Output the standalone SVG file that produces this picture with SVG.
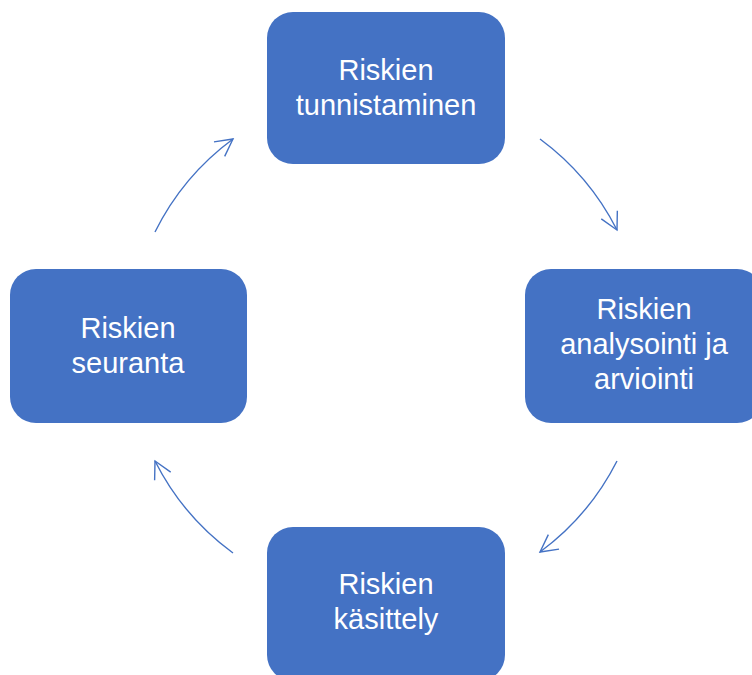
<svg xmlns="http://www.w3.org/2000/svg" width="752" height="675" viewBox="0 0 752 675">
<defs>
<style>
.box{fill:#4472C4;}
.lbl{fill:#FFFFFF;font-family:"Liberation Sans",Arial,sans-serif;font-size:29px;text-anchor:middle;}
.conn{fill:none;stroke:#4472C4;stroke-width:1.4;marker-end:url(#arr);}
</style>
<marker id="arr" markerUnits="userSpaceOnUse" markerWidth="40" markerHeight="40" viewBox="-20 -20 40 40" refX="0" refY="0" orient="auto" overflow="visible">
<path d="M-17,-9 L0,0 L-17,9" fill="none" stroke="#4472C4" stroke-width="1.4"/>
</marker>
</defs>
<rect width="752" height="675" fill="#FFFFFF"/>
<g id="n1">
<rect class="box" x="267" y="12" width="238" height="152" rx="26"/>
<text class="lbl" x="386" y="80">Riskien</text>
<text class="lbl" x="386" y="115">tunnistaminen</text>
</g>
<g id="n2">
<rect class="box" x="525" y="269" width="238" height="154" rx="26"/>
<text class="lbl" x="644" y="319">Riskien</text>
<text class="lbl" x="644" y="354">analysointi ja</text>
<text class="lbl" x="644" y="389">arviointi</text>
</g>
<g id="n3">
<rect class="box" x="267" y="527" width="238" height="154" rx="26"/>
<text class="lbl" x="386" y="594">Riskien</text>
<text class="lbl" x="386" y="629">käsittely</text>
</g>
<g id="n4">
<rect class="box" x="10" y="269" width="237" height="154" rx="26"/>
<text class="lbl" x="128" y="338">Riskien</text>
<text class="lbl" x="128" y="373">seuranta</text>
</g>
<g id="connectors">
<path class="conn" d="M540,139 A258,258 0 0 1 617,230"/>
<path class="conn" d="M617,461 A258,258 0 0 1 540,552"/>
<path class="conn" d="M233,553 A258,258 0 0 1 155,461"/>
<path class="conn" d="M155,232 A258,258 0 0 1 233,139"/>
</g>
</svg>
